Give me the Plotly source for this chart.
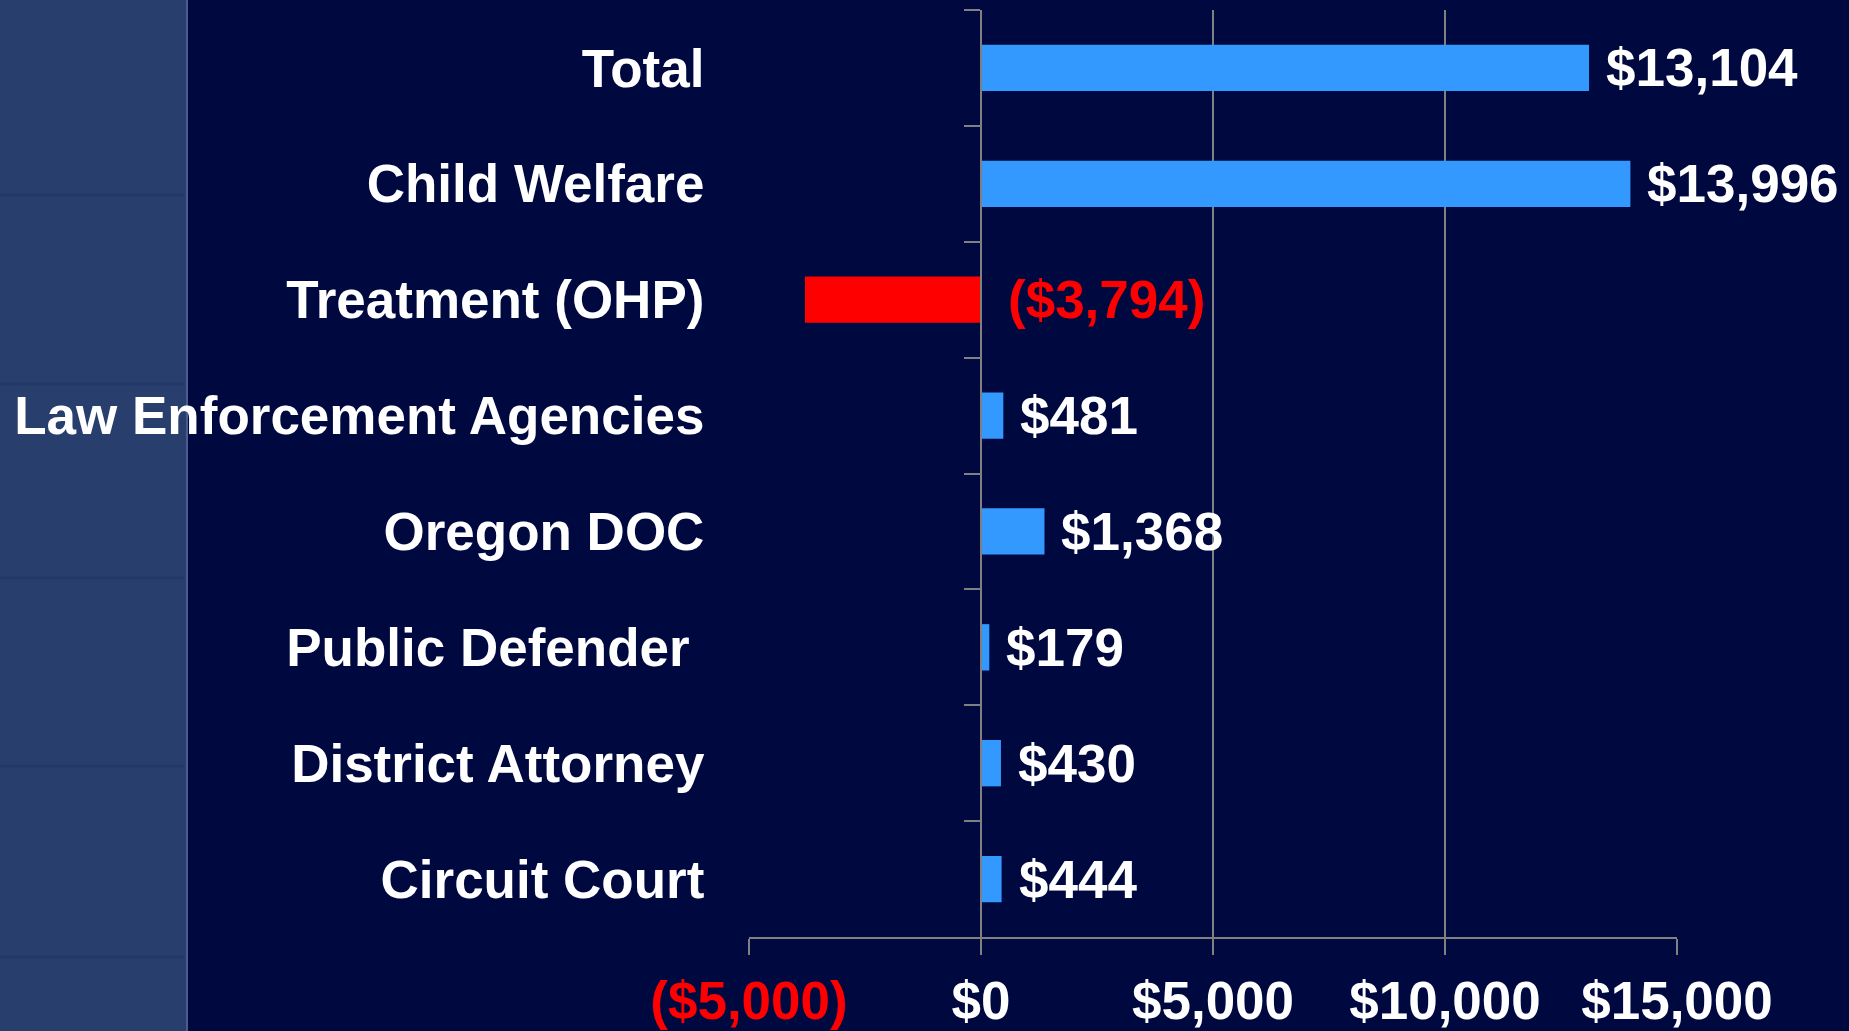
import plotly.graph_objects as go

categories = ["Total", "Child Welfare", "Treatment (OHP)", "Law Enforcement Agencies",
              "Oregon DOC", "Public Defender\u00a0", "District Attorney", "Circuit Court"]
values = [13104, 13996, -3794, 481, 1368, 179, 430, 444]
value_labels = ["$13,104", "$13,996", "($3,794)", "$481", "$1,368", "$179", "$430", "$444"]
tick_values = [-5000, 0, 5000, 10000, 15000]
tick_labels = ["($5,000)", "$0", "$5,000", "$10,000", "$15,000"]

BG = "#000840"
BLUE = "#3399FF"
RED = "#FF0000"
GREY = "#808080"
FONT = "Liberation Sans, Arial, sans-serif"

W, H = 1849, 1031
ML, MR, MT, MB = 749, 172, 10, 94
PW, PH = W - ML - MR, H - MT - MB

colors = [RED if v < 0 else BLUE for v in values]

fig = go.Figure()
fig.add_trace(go.Bar(
    x=values, y=categories, orientation="h",
    marker=dict(color=colors, line=dict(width=0)),
    hoverinfo="skip",
))

# value labels
for c, v, t in zip(categories, values, value_labels):
    neg = v < 0
    fig.add_annotation(
        x=max(v, 0), y=c, xref="x", yref="y", text=t, showarrow=False,
        xanchor="left", yanchor="middle", xshift=25 if neg else 15,
        font=dict(family=FONT, size=53, color=RED if neg else "white", weight="bold"),
    )

tick_text = [f"<span style='color:{RED}'>{t}</span>" if v < 0 else t
             for v, t in zip(tick_values, tick_labels)]

# left decorative panel
def px2x(p):
    return (p - ML) / PW

def py2y(p):
    return (H - MB - p) / PH

shapes = [
    dict(type="rect", xref="paper", yref="paper", x0=px2x(-5), x1=px2x(186),
         y0=py2y(H + 5), y1=py2y(-5), fillcolor="#283F6E", line=dict(width=0), layer="below"),
    dict(type="line", xref="paper", yref="paper", x0=px2x(187), x1=px2x(187),
         y0=py2y(H + 5), y1=py2y(-5), line=dict(color="#4B5B8F", width=2), layer="below"),
]
for yy in [195, 384, 578, 766, 957]:
    shapes.append(dict(type="line", xref="paper", yref="paper", x0=px2x(0), x1=px2x(184),
                       y0=py2y(yy), y1=py2y(yy), line=dict(color="#22386A", width=3),
                       layer="below"))

fig.update_layout(
    width=W, height=H, autosize=False,
    margin=dict(l=ML, r=MR, t=MT, b=MB, autoexpand=False),
    paper_bgcolor=BG, plot_bgcolor=BG,
    showlegend=False,
    bargap=0.6,
    shapes=shapes,
    font=dict(family=FONT, color="white", size=53, weight="bold"),
    xaxis=dict(
        range=[-5000, 15000], tickvals=tick_values, ticktext=tick_text,
        showgrid=True, gridcolor=GREY, gridwidth=1.5, zeroline=False,
        showline=True, linecolor=GREY, linewidth=2,
        ticks="outside", ticklen=16, tickwidth=1.5, tickcolor=GREY,
        tickfont=dict(family=FONT, size=53, color="white", weight="bold"),
        ticklabelstandoff=0,
    ),
    yaxis=dict(
        type="category", categoryorder="array", categoryarray=categories,
        autorange="reversed",
        anchor="free", position=0.25,
        showline=True, linecolor=GREY, linewidth=2,
        ticks="outside", ticklen=16, tickwidth=1.5, tickcolor=GREY,
        tickson="boundaries", showgrid=False, zeroline=False,
        tickfont=dict(family=FONT, size=53, color="white", weight="bold"),
        ticklabelstandoff=265,
    ),
)

fig.write_html(
    "out.html",
    config={"responsive": False, "displayModeBar": False},
    default_width=f"{W}px", default_height=f"{H}px",
    post_script="document.body.style.margin='0';document.body.style.overflow='hidden';"
                "document.documentElement.style.background='" + BG + "';",
)
